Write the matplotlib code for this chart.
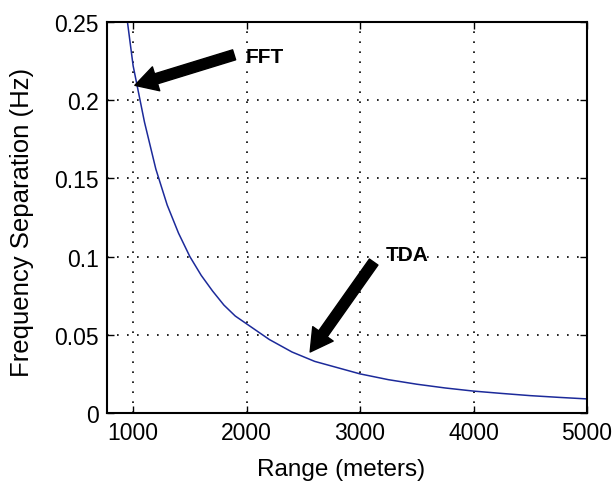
import matplotlib
matplotlib.use("Agg")
import matplotlib.pyplot as plt

# values
range_m = [950, 1000, 1050, 1100, 1200, 1300, 1400, 1500, 1600, 1700, 1800, 1900,
           2000, 2200, 2400, 2600, 2800, 3000, 3250, 3500, 3750, 4000, 4250, 4500,
           4750, 5000]
freq_sep = [0.250, 0.222, 0.204, 0.186, 0.156, 0.133, 0.115, 0.100, 0.088, 0.078,
            0.069, 0.062, 0.057, 0.047, 0.039, 0.033, 0.029, 0.025, 0.0213, 0.0184,
            0.016, 0.014, 0.0125, 0.0111, 0.010, 0.009]

x_ticks = [1000, 2000, 3000, 4000, 5000]
y_ticks = [0, 0.05, 0.1, 0.15, 0.2, 0.25]
y_tick_labels = ["0", "0.05", "0.1", "0.15", "0.2", "0.25"]

plt.rcParams["font.family"] = ["Liberation Sans", "DejaVu Sans"]

fig = plt.figure(figsize=(6.13, 4.85), dpi=100)
ax = fig.add_axes([0.1746, 0.1464, 0.783, 0.8062])

ax.plot(range_m, freq_sep, color="#1c2a9a", linewidth=1.1)

ax.set_xlim(770, 5000)
ax.set_ylim(0, 0.25)
ax.set_xticks(x_ticks)
ax.set_yticks(y_ticks)
ax.set_yticklabels(y_tick_labels)
ax.tick_params(direction="in", top=True, right=True, length=5, width=1,
               labelsize=16.5, pad=6, colors="black")
ax.grid(True, color="black", linestyle=(0, (1, 5)), linewidth=1.2)
for s in ax.spines.values():
    s.set_linewidth(1.5)

ax.set_xlabel("Range (meters)", fontsize=17.5)
ax.set_ylabel("Frequency Separation (Hz)", fontsize=18.5)
ax.xaxis.set_label_coords(0.4875, -0.115)
ax.yaxis.set_label_coords(-0.152, 0.49)

arrow_style = dict(facecolor="black", edgecolor="black", width=7.5, headwidth=18, headlength=16)
ax.annotate("", xy=(1015, 0.2095), xytext=(1890, 0.229), arrowprops=arrow_style)
ax.annotate("", xy=(2560, 0.039), xytext=(3120, 0.0965), arrowprops=arrow_style)
ax.text(1990, 0.228, "FFT", fontsize=15, fontweight="bold", va="center", ha="left")
ax.text(3230, 0.1015, "TDA", fontsize=15, fontweight="bold", va="center", ha="left")

fig.savefig("out.png", dpi=100)
